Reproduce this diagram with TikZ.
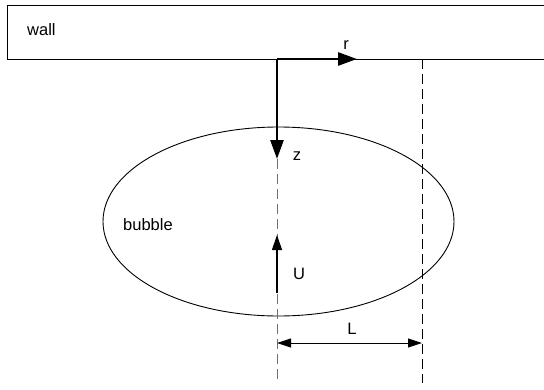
\documentclass[tikz,border=0pt]{standalone}
\usepackage{fontspec}
\setmainfont{Liberation Sans}
\usepackage{tikz}
\usetikzlibrary{arrows.meta,positioning,shapes.geometric}
\definecolor{cA}{HTML}{000000}
\definecolor{cG}{HTML}{707070}
\tikzset{
  lbl/.style={inner sep=0pt,font=\fontsize{16.5}{19}\selectfont},
  axis/.style={-{Triangle[length=19pt,width=13pt]},line width=2.6pt,cA},
  vel/.style={-{Triangle[length=15pt,width=10pt]},line width=1.2pt,cA},
  dim/.style={{Triangle[length=14pt,width=9pt]}-{Triangle[length=14pt,width=9pt]},line width=0.9pt,cA},
  guide/.style={dash pattern=on 10pt off 5pt,line width=0.9pt},
  bubbleshape/.style={ellipse,draw=cA,line width=0.9pt,inner sep=0pt},
}
\begin{document}
\begin{tikzpicture}[x=1pt,y=-1pt]
  \useasboundingbox (0,0) rectangle (544,389);
  % wall
  \draw[line width=0.9pt] (544,5) -- (7,5) -- (7,59) -- (544,59);
  \node[lbl,anchor=base west] (wall) at (27,35) {wall};
  % bubble
  \node[bubbleshape,minimum width=351pt,minimum height=189pt] (bub) at (278.5,221.5) {};
  \node[lbl,anchor=base west] (bubtxt) at (123,230) {bubble};
  % axes
  \coordinate (O) at (277,59);
  \coordinate (rtip) at (357,59);
  \coordinate (ztip) at (277,159);
  \coordinate (axisend) at (277,383);
  \coordinate (Ltop) at (422,59);
  \coordinate (Lend) at (422,383);
  \draw[guide,cG] (ztip) -- (axisend);
  \draw[guide] (Ltop) -- (Lend);
  \draw[axis] (O) -- (rtip);
  \draw[axis] (O) -- (ztip);
  \node[lbl] (r) at (346,45) {r};
  \node[lbl] (z) at (297,156) {z};
  % rise velocity
  \coordinate (Ufoot) at (277,293);
  \coordinate (Utip) at (277,235);
  \draw[vel] (Ufoot) -- (Utip);
  \node[lbl] (U) at (299,274) {U};
  % distance
  \coordinate (La) at (277,343);
  \coordinate (Lb) at (422,343);
  \draw[dim] (La) -- (Lb);
  \node[lbl] (L) at (352,329) {L};
\end{tikzpicture}
\end{document}
